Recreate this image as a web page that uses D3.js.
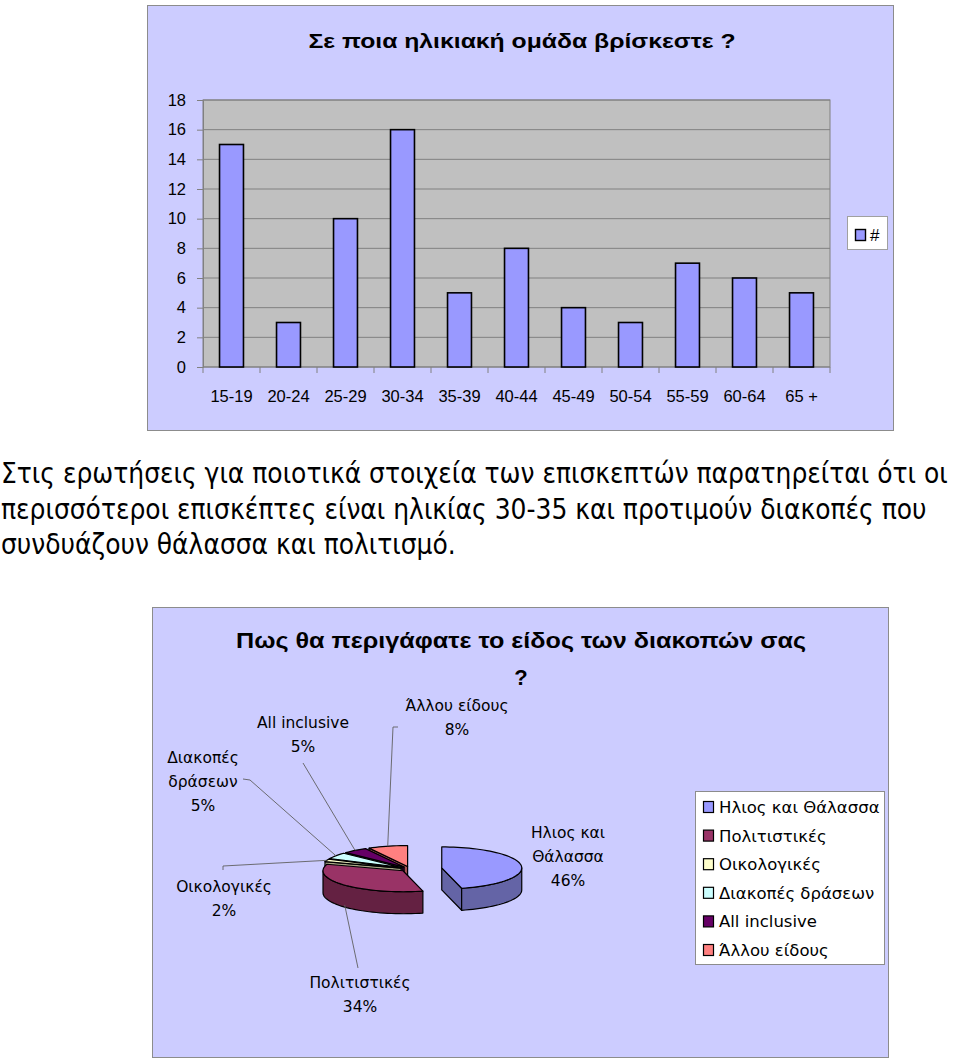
<!DOCTYPE html>
<html>
<head>
	<meta charset="utf-8">
	<title>Ηλικιακές ομάδες και είδος διακοπών</title>
	<script src="https://d3js.org/d3.v7.min.js"></script>
	<style>
		body { margin: 0; background: #fff; }
		svg { display: block; }
		text { font-family: "Liberation Sans", Arial, sans-serif; fill: #000; }
	</style>
</head>
<body>
<svg id="page" width="960" height="1063"></svg>
<script type="text/javascript">

	// bar chart data
	var ageGroups = ["15-19", "20-24", "25-29", "30-34", "35-39", "40-44", "45-49", "50-54", "55-59", "60-64", "65 +"];
	var ageCounts = [15, 3, 10, 16, 5, 8, 4, 3, 7, 6, 5];
	var ageTicks = [0, 2, 4, 6, 8, 10, 12, 14, 16, 18];
	var barSeries = "#";

	// pie chart data
	var holidayTypes = ["Ηλιος και Θάλασσα", "Πολιτιστικές", "Οικολογικές", "Διακοπές δράσεων", "All inclusive", "Άλλου είδους"];
	var holidayShares = [46, 34, 2, 5, 5, 8];
	var holidayLabels = [["Ηλιος και", "Θάλασσα"], ["Πολιτιστικές"], ["Οικολογικές"], ["Διακοπές", "δράσεων"], ["All inclusive"], ["Άλλου είδους"]];

	var paragraph = [
		"Στις ερωτήσεις για ποιοτικά στοιχεία των επισκεπτών παρατηρείται ότι οι",
		"περισσότεροι επισκέπτες είναι ηλικίας 30-35 και προτιμούν διακοπές που",
		"συνδυάζουν θάλασσα και πολιτισμό."
	];

	var svg = d3.select("#page");

	// ---------- bar chart ----------
	var barG = svg.append("g");
	barG.append("rect")
		.attr("x", 147.5).attr("y", 5.5).attr("width", 746).attr("height", 425)
		.style("fill", "#ccccff").style("stroke", "#8c8c8c");

	barG.append("text")
		.attr("x", 522).attr("y", 48)
		.attr("text-anchor", "middle")
		.attr("textLength", 427).attr("lengthAdjust", "spacingAndGlyphs")
		.style("font-size", "20.5px").style("font-weight", "bold")
		.text("Σε ποια ηλικιακή ομάδα βρίσκεστε ?");

	var x = d3.scaleBand().domain(ageGroups).range([203, 830]).paddingInner(0.58).paddingOuter(0.29);
	var y = d3.scaleLinear().domain([0, 18]).range([367, 100]);

	barG.append("rect")
		.attr("x", x.range()[0]).attr("y", y(18))
		.attr("width", x.range()[1] - x.range()[0]).attr("height", y(0) - y(18))
		.style("fill", "#c0c0c0").style("stroke", "#808080");

	barG.append("g").selectAll("line")
		.data(ageTicks.slice(1))
		.enter().append("line")
		.attr("x1", x.range()[0]).attr("x2", x.range()[1])
		.attr("y1", function(d){ return y(d); }).attr("y2", function(d){ return y(d); })
		.style("stroke", "#808080");

	var yAxis = barG.append("g")
		.attr("transform", "translate(" + x.range()[0] + ",0)")
		.call(d3.axisLeft(y).tickValues(ageTicks).tickSize(6).tickPadding(11));
	yAxis.select(".domain").style("stroke", "#808080");
	yAxis.selectAll(".tick line").style("stroke", "#808080");
	yAxis.selectAll("text").style("font-size", "16.5px").style("font-family", "Liberation Sans, Arial, sans-serif");

	// category boundaries for x ticks
	var gap = (x.step() - x.bandwidth()) / 2;
	var bounds = ageGroups.map(function(c){ return x(c) - gap; }).concat([x.range()[1]]);
	barG.append("line")
		.attr("x1", x.range()[0]).attr("x2", x.range()[1])
		.attr("y1", y(0)).attr("y2", y(0))
		.style("stroke", "#808080");
	barG.append("g").selectAll("line")
		.data(bounds)
		.enter().append("line")
		.attr("x1", function(d){ return d; }).attr("x2", function(d){ return d; })
		.attr("y1", y(0)).attr("y2", y(0) + 6)
		.style("stroke", "#808080");

	barG.append("g").selectAll("text")
		.data(ageGroups)
		.enter().append("text")
		.attr("x", function(d){ return x(d) + x.bandwidth() / 2; })
		.attr("y", 402)
		.attr("text-anchor", "middle")
		.style("font-size", "16.5px")
		.text(function(d){ return d; });

	barG.append("g").selectAll("rect")
		.data(ageCounts)
		.enter().append("rect")
		.attr("x", function(d, i){ return x(ageGroups[i]); })
		.attr("y", function(d){ return y(d); })
		.attr("width", x.bandwidth())
		.attr("height", function(d){ return y(0) - y(d); })
		.style("fill", "#9999ff").style("stroke", "#000").style("stroke-width", 1.6);

	// legend
	barG.append("rect")
		.attr("x", 847.5).attr("y", 216.5).attr("width", 40).attr("height", 33)
		.style("fill", "#fff").style("stroke", "#a0a0a0");
	barG.append("rect")
		.attr("x", 855.5).attr("y", 229.5).attr("width", 10).attr("height", 11)
		.style("fill", "#9999ff").style("stroke", "#000").style("stroke-width", 1.4);
	barG.append("text")
		.attr("x", 870).attr("y", 241)
		.style("font-size", "17px")
		.text(barSeries);

	// ---------- paragraph ----------
	// shrink the font until the longest line fits the page width
	var paraText = svg.append("g").selectAll("text")
		.data(paragraph)
		.enter().append("text")
		.attr("x", 1)
		.attr("y", function(d, i){ return 483 + i * 35.5; })
		.style("font-family", "DejaVu Sans Condensed, DejaVu Sans, Verdana, sans-serif")
		.style("font-size", "27.8px")
		.text(function(d){ return d; });
	var widest = d3.max(paraText.nodes(), function(n){ return n.getComputedTextLength(); });
	if (widest > 953) paraText.style("font-size", (27.8 * 953 / widest) + "px");

	// ---------- pie chart ----------
	var pieBox = svg.append("g");
	pieBox.append("rect")
		.attr("x", 152.5).attr("y", 607.5).attr("width", 736).attr("height", 450)
		.style("fill", "#ccccff").style("stroke", "#8c8c8c");

	pieBox.append("text")
		.attr("x", 521).attr("y", 648)
		.attr("text-anchor", "middle")
		.attr("textLength", 570).attr("lengthAdjust", "spacingAndGlyphs")
		.style("font-size", "22px").style("font-weight", "bold")
		.text("Πως θα περιγάφατε το είδος των διακοπών σας");
	pieBox.append("text")
		.attr("x", 521).attr("y", 685)
		.attr("text-anchor", "middle")
		.style("font-size", "22px").style("font-weight", "bold")
		.text("?");

	var pieColors = d3.scaleOrdinal()
		.domain(holidayTypes)
		.range(["#9999ff", "#993366", "#ffffcc", "#ccffff", "#660066", "#ff8080"]);

	var cx = 410, cy = 869, rx = 80, ry = 21, depth = 22;
	var explodeFor = function(name) { return name === holidayTypes[0] ? 0.4 : 0.12; };

	var slices = d3.pie().sort(null).value(function(d){ return d; })(holidayShares);
	slices.forEach(function(s, i) {
		s.name = holidayTypes[i];
		s.mid = (s.startAngle + s.endAngle) / 2;
		var e = explodeFor(s.name);
		s.ox = cx + e * rx * Math.sin(s.mid);
		s.oy = cy - e * ry * Math.cos(s.mid);
	});

	var ept = function(s, a, dz) {
		return [s.ox + rx * Math.sin(a), s.oy - ry * Math.cos(a) + (dz || 0)];
	};
	var arcPts = function(s, a0, a1, dz) {
		var n = Math.max(2, Math.ceil((a1 - a0) / 0.05));
		return d3.range(n + 1).map(function(k){ return ept(s, a0 + (a1 - a0) * k / n, dz); });
	};
	var line = d3.line();

	// back slices first
	var order = slices.slice().sort(function(a, b){ return Math.cos(b.mid) - Math.cos(a.mid); });

	var pieG = pieBox.append("g");
	order.forEach(function(s) {
		var c = pieColors(s.name);
		var side = d3.color(c).darker(1.2).formatHex();
		var g = pieG.append("g");
		var walls = [];
		if (Math.sin(s.startAngle) < -1e-6) walls.push(s.startAngle);
		if (Math.sin(s.endAngle) > 1e-6) walls.push(s.endAngle);
		walls.forEach(function(a) {
			var p = ept(s, a);
			g.append("path")
				.attr("d", line([[s.ox, s.oy], p, [p[0], p[1] + depth], [s.ox, s.oy + depth]]) + "Z")
				.style("fill", side).style("stroke", "#000").style("stroke-width", 1.2).style("stroke-linejoin", "round");
		});
		var f0 = Math.max(s.startAngle, Math.PI / 2), f1 = Math.min(s.endAngle, Math.PI * 1.5);
		if (f1 > f0) {
			var pts = arcPts(s, f0, f1, 0).concat(arcPts(s, f0, f1, depth).reverse());
			g.append("path")
				.attr("d", line(pts) + "Z")
				.style("fill", side).style("stroke", "#000").style("stroke-width", 1.2).style("stroke-linejoin", "round");
		}
		g.append("path")
			.attr("d", line([[s.ox, s.oy]].concat(arcPts(s, s.startAngle, s.endAngle, 0))) + "Z")
			.style("fill", c).style("stroke", "#000").style("stroke-width", 1.2).style("stroke-linejoin", "round");
	});

	// data labels, placed where the original chart had them
	var labelLayout = {
		"Ηλιος και Θάλασσα": { x: 568, y: 838, lead: null },
		"Πολιτιστικές":      { x: 360, y: 988, lead: [[358, 968]] },
		"Οικολογικές":       { x: 224, y: 892, lead: [[223, 870], [223, 866]] },
		"Διακοπές δράσεων":  { x: 203, y: 763, lead: [[243, 779], [250, 780]] },
		"All inclusive":     { x: 303, y: 728, lead: [[303, 763]] },
		"Άλλου είδους":      { x: 457, y: 711, lead: [[398, 727], [393, 727]] }
	};
	var labG = pieBox.append("g");
	slices.forEach(function(s, i) {
		var L = labelLayout[s.name];
		var lines = holidayLabels[i].concat([holidayShares[i] + "%"]);
		labG.append("g").selectAll("text")
			.data(lines)
			.enter().append("text")
			.attr("x", L.x)
			.attr("y", function(d, k){ return L.y + k * 24; })
			.attr("text-anchor", "middle")
			.style("font-family", "DejaVu Sans, Verdana, sans-serif")
			.style("font-size", "15.5px")
			.text(function(d){ return d; });
		if (L.lead) {
			var end = ept(s, s.mid, Math.cos(s.mid) < 0 ? depth * 0.9 : 0);
			labG.append("path")
				.attr("d", line(L.lead.concat([end])))
				.style("fill", "none").style("stroke", "#606060").style("stroke-width", 0.9);
		}
	});

	// legend
	var leg = pieBox.append("g");
	leg.append("rect")
		.attr("x", 695.5).attr("y", 791.5).attr("width", 189).attr("height", 173)
		.style("fill", "#fff").style("stroke", "#8c8c8c");
	var items = leg.selectAll("g.item")
		.data(holidayTypes)
		.enter().append("g")
		.attr("class", "item")
		.attr("transform", function(d, i){ return "translate(703," + (807 + i * 28.6) + ")"; });
	items.append("rect")
		.attr("x", 0.5).attr("y", -5.5).attr("width", 10).attr("height", 11)
		.style("fill", function(d){ return pieColors(d); })
		.style("stroke", "#000").style("stroke-width", 1.2);
	items.append("text")
		.attr("x", 16).attr("y", 6)
		.style("font-family", "DejaVu Sans, Verdana, sans-serif")
		.style("font-size", "16.5px")
		.text(function(d){ return d; });

</script>
</body>
</html>
